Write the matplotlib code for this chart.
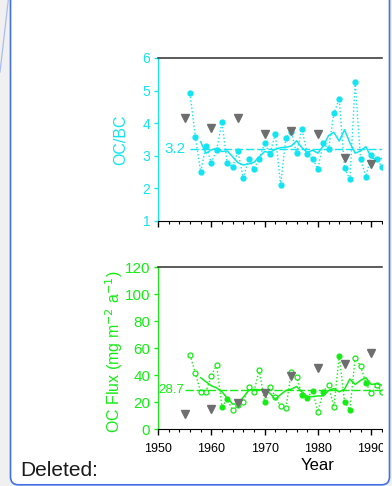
import numpy as np
import matplotlib
matplotlib.use('Agg')
import matplotlib.pyplot as plt
from matplotlib.patches import Rectangle, FancyBboxPatch
from matplotlib.lines import Line2D

plt.rcParams['font.family'] = ['Liberation Sans', 'DejaVu Sans']

# --- DATA ---
years = np.arange(1956, 1993)
ocbc = [4.92, 3.59, 2.51, 3.30, 2.79, 3.18, 4.03, 2.77, 2.66, 3.14,
        2.32, 2.91, 2.60, 2.90, 3.39, 3.07, 3.66, 2.11, 3.55, 3.74,
        3.08, 3.82, 3.06, 2.91, 2.61, 3.39, 3.20, 4.30, 4.75, 2.62,
        2.28, 5.25, 2.90, 2.36, 3.02, 2.90, 2.67]

smooth_years = np.arange(1958, 1993)
ocbc_smooth = [3.43, 3.08, 3.18, 3.23, 3.13, 3.15, 2.97, 2.79, 2.72, 2.75,
               2.80, 2.97, 3.13, 3.10, 3.20, 3.25, 3.26, 3.30, 3.46, 3.25,
               3.10, 3.17, 3.08, 3.30, 3.62, 3.72, 3.45, 3.80, 3.40, 3.08,
               3.15, 3.28, 2.95, 2.88, 2.92]

ref_years = [1955, 1960, 1965, 1970, 1975, 1980, 1985, 1990]
ocbc_ref = [4.17, 3.86, 4.17, 3.68, 3.76, 3.66, 2.94, 2.74]
ocbc_mean = 3.2

flux = [54.8, 41.7, 27.2, 27.7, 39.5, 47.6, 16.5, 22.0, 13.8, 17.8,
        20.2, 30.9, 27.7, 43.7, 20.2, 30.9, 24.0, 17.0, 15.3, 42.5,
        38.8, 25.2, 23.2, 28.4, 12.8, 27.7, 32.6, 16.1, 54.3, 20.2,
        14.3, 52.8, 46.7, 34.3, 26.4, 32.6, 27.7]
flux_filled = [0, 0, 0, 0, 0, 0, 1, 1, 0, 0,
               0, 0, 0, 0, 1, 0, 0, 0, 0, 0,
               0, 1, 1, 1, 0, 1, 0, 0, 1, 1,
               1, 0, 0, 1, 0, 0, 0]
flux_smooth = [38.0, 35.0, 32.0, 30.5, 27.5, 23.0, 18.5, 18.5, 23.5, 28.5,
               29.5, 29.0, 29.0, 26.5, 22.0, 25.5, 28.5, 29.5, 31.5, 27.5,
               24.0, 24.0, 24.5, 24.5, 28.5, 30.0, 27.5, 29.5, 37.0, 33.0,
               36.0, 38.0, 33.0, 33.5, 32.5]
flux_ref = [11.1, 14.8, 19.5, 26.4, 39.5, 45.0, 48.1, 56.5]
flux_mean = 28.7

CYAN = '#12e4f2'
GREEN = '#14ec14'
GREY = '#6e6e6e'
BLUE = '#4470e6'

W, H = 392, 486
fig = plt.figure(figsize=(W / 100, H / 100), dpi=100, facecolor='#f0f0f0')

# comment balloon chrome
balloon = FancyBboxPatch((0.105, 0.012), 3.79, 5.2,
                         boxstyle='round,pad=0,rounding_size=0.08',
                         transform=fig.dpi_scale_trans, facecolor='white',
                         edgecolor=BLUE, lw=1.2, zorder=-2)
fig.add_artist(balloon)
fig.add_artist(Line2D([0, 0.083], [(H - 72) / 100, H / 100],
                      transform=fig.dpi_scale_trans, color='#a9bdf3', lw=0.9))
fig.text(20 / W, 1 - 476 / H, 'Deleted:', fontsize=15, va='baseline',
         color='#1a1a1a')

ax_left, ax_w = 158 / W, 224 / W
xmax = 1950 + 224 / 5.33


def style_axes(ax, color, ymin, ymax, ystep, ylab_size):
    ax.set_facecolor('none')
    ax.set_xlim(1950, xmax)
    ax.set_ylim(ymin, ymax)
    ax.spines['right'].set_visible(False)
    ax.spines['top'].set_color('#2e2e2e')
    ax.spines['top'].set_linewidth(1.1)
    ax.spines['left'].set_color(color)
    ax.spines['bottom'].set_color('black')
    ax.set_yticks(np.arange(ymin, ymax + 0.1, ystep))
    ax.tick_params(axis='y', colors=color, labelcolor=color, length=3,
                   width=1, pad=2.5, labelsize=ylab_size)
    ax.set_xticks(np.arange(1950, 1993, 10))
    ax.set_xticks(np.arange(1950, 1993, 2), minor=True)
    ax.tick_params(axis='x', which='major', length=4, width=1, color='black')
    ax.tick_params(axis='x', which='minor', length=2.5, width=0.8, color='black')


# --- OC/BC panel ---
ax1 = fig.add_axes([ax_left, 1 - 221 / H, ax_w, 163 / H])
style_axes(ax1, CYAN, 1, 6, 1, 10)
ax1.tick_params(axis='x', labelbottom=False)
ax1.set_ylabel('OC/BC', color=CYAN, fontsize=11.5)
ax1.yaxis.set_label_coords(-0.134, 0.5)

ax1.plot(years, ocbc, color=CYAN, lw=1, linestyle=(0, (1, 1.6)),
         marker='o', ms=3.5, mec=CYAN, mfc=CYAN)
ax1.plot(smooth_years, ocbc_smooth, color=CYAN, lw=1.1)
ax1.axhline(ocbc_mean, xmin=0.143, color=CYAN, lw=1, dashes=(6, 2))
ax1.text(0.125, ocbc_mean, f'{ocbc_mean:.1f}', color=CYAN, fontsize=11,
         ha='right', va='center', transform=ax1.get_yaxis_transform())
ax1.plot(ref_years, ocbc_ref, 'v', color=GREY, ms=6.3, zorder=5)

# --- OC flux panel ---
ax2 = fig.add_axes([ax_left, 1 - 429 / H, ax_w, 162 / H])
style_axes(ax2, GREEN, 0, 120, 20, 11)
ax2.tick_params(axis='x', labelsize=9, pad=6)
ax2.set_ylabel('OC Flux (mg m$^{-2}$ a$^{-1}$)', color=GREEN, fontsize=11.5)
ax2.yaxis.set_label_coords(-0.147, 0.475)
ax2.set_xlabel('Year', fontsize=12, va='top')
ax2.xaxis.set_label_coords(0.712, -0.18)

filled = np.array(flux_filled, dtype=bool)
flux_arr = np.array(flux)
ax2.plot(years, flux, color=GREEN, lw=1, linestyle=(0, (1, 1.6)))
ax2.plot(years[filled], flux_arr[filled], 'o', ms=3.4, color=GREEN)
ax2.plot(years[~filled], flux_arr[~filled], 'o', ms=3.6, mec=GREEN,
         mfc='white', mew=0.9)
ax2.plot(smooth_years, flux_smooth, color=GREEN, lw=1.1)
ax2.axhline(flux_mean, xmin=0.12, color=GREEN, lw=1, dashes=(6, 2))
ax2.text(0.116, flux_mean, f'{flux_mean:.1f}', color=GREEN, fontsize=9.5,
         ha='right', va='center', transform=ax2.get_yaxis_transform())
ax2.plot(ref_years, flux_ref, 'v', color=GREY, ms=6.3, zorder=5)

# the balloon cuts the chart off on the right
fig.add_artist(Rectangle((382.5 / 100, 0.2), 0.058, 5.0,
                         transform=fig.dpi_scale_trans, facecolor='white',
                         edgecolor='none', zorder=5))

fig.savefig('out.png', dpi=100, facecolor=fig.get_facecolor())
